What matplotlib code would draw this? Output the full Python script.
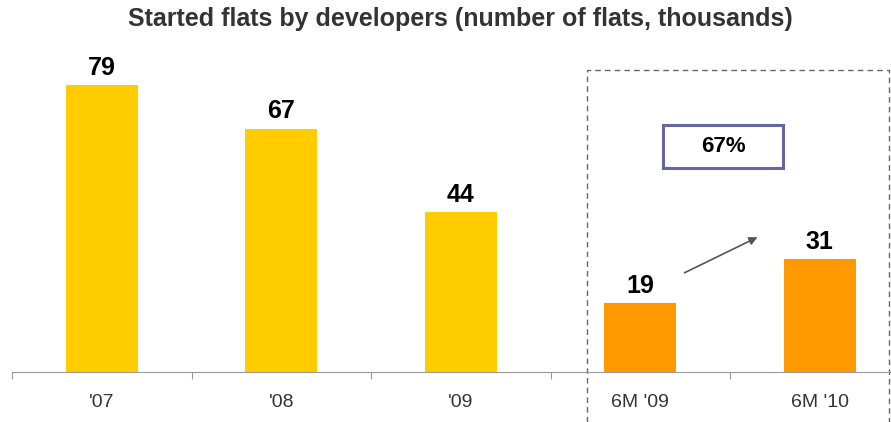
import numpy as np
import matplotlib.pyplot as plt
from matplotlib.patches import Rectangle

categories = ["'07", "'08", "'09", "6M '09", "6M '10"]
values = [79, 67, 44, 19, 31]
colors = ['#FFCC00', '#FFCC00', '#FFCC00', '#FF9900', '#FF9900']
growth_label = '67%'

plt.rcParams['font.family'] = ['Liberation Sans', 'DejaVu Sans']

fig = plt.figure(figsize=(8.91, 4.22), dpi=100)
# x-axis runs from the first tick (12px) past the right edge
ax = fig.add_axes([12 / 891, 1 - 372 / 422, 897.5 / 891, 308.6 / 422])
x = np.arange(len(categories))
ax.bar(x, values, width=0.4, color=colors)
ax.set_xlim(-0.5, 4.5)
ax.set_ylim(0, 85)

for xi, v in zip(x, values):
    ax.text(xi, v + 1.5, str(v), ha='center', va='bottom', fontsize=18,
            fontweight='bold', color='black')

for s in ['top', 'right', 'left']:
    ax.spines[s].set_visible(False)
ax.spines['bottom'].set_color('#999999')
ax.set_yticks([])
ax.set_xticks(np.arange(-0.5, 5, 1), minor=False)
ax.set_xticklabels([])
ax.tick_params(axis='x', direction='out', length=5, color='#999999')
for xi, lab in zip(x, categories):
    ax.text(xi, -8.3, lab, ha='center', va='center', fontsize=14, color='#333333')

# dashed frame around half-year bars
ax.add_patch(Rectangle((2.703, -20), 4.386 - 2.703, 83.2 + 20, fill=False,
                       ls=(0, (4, 3)), lw=1, ec='#666666', clip_on=False))

# growth box
bx0 = (663 - 12) / 179.5 - 0.5
bx1 = (783 - 12) / 179.5 - 0.5
by0 = (372 - 168) / 3.63
by1 = (372 - 125) / 3.63
ax.add_patch(Rectangle((bx0, by0), bx1 - bx0, by1 - by0, fill=False,
                       lw=2.2, ec='#6666A0', clip_on=False))
ax.text((bx0 + bx1) / 2, (by0 + by1) / 2, growth_label, ha='center', va='center',
        fontsize=16, fontweight='bold')

ax.annotate('', xy=((760 - 12) / 179.5 - 0.5, (372 - 236) / 3.63),
            xytext=((682 - 12) / 179.5 - 0.5, (372 - 274) / 3.63),
            arrowprops=dict(arrowstyle='-|>', color='#555555', lw=1.2,
                            mutation_scale=12))

fig.text(460 / 891, 1 - 19 / 422, 'Started flats by developers (number of flats, thousands)',
         ha='center', va='center', fontsize=18, fontweight='bold', color='#333333')

fig.savefig('out.png', dpi=100)
